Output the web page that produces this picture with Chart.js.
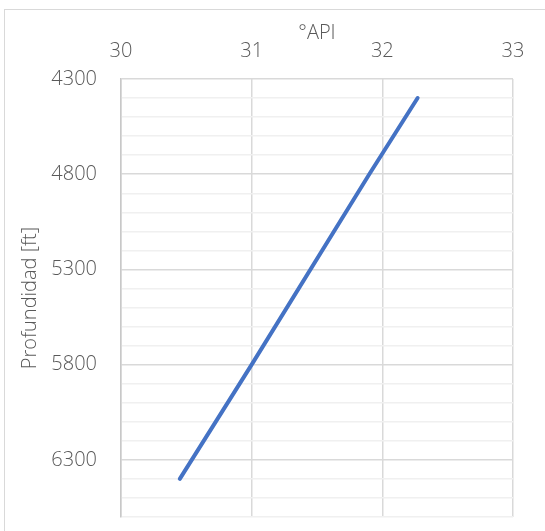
<!DOCTYPE html>
<html>
<head>
    <meta charset="UTF-8">
    <title>°API vs Profundidad</title>
    <script src="https://cdn.jsdelivr.net/npm/chart.js"></script>
    <style>
        body { margin: 0; background: #fff; overflow: hidden; }
        #wrap { position: relative; width: 545px; height: 531px; overflow: hidden; }
        #frame { position: absolute; left: 4px; top: 9px; width: 560px; height: 560px; border: 1px solid #d9d9d9; }
        canvas { position: absolute; left: 0; top: 0; }
    </style>
</head>
<body>
<div id="wrap">
    <div id="frame"></div>
    <canvas id="apiChart" width="545" height="531"></canvas>
</div>

<script>
    // Werte
    const depthFt = [4400, 4800, 5800, 6400];
    const apiValues = [32.27, 31.90, 31.00, 30.45];

    const xTicks = [30, 31, 32, 33];
    const yMin = 4300, yMax = 6600, yLabelStep = 500, yMinorStep = 100;

    const points = depthFt.map((d, i) => ({ x: apiValues[i], y: d }));
    const font = { family: "'Open Sans', sans-serif", size: 20, weight: 300 };

    const isMajorY = v => (v - yMin) % yLabelStep === 0;

    new Chart(document.getElementById("apiChart").getContext("2d"), {
        type: 'scatter',
        data: {
            datasets: [{
                data: points,
                showLine: true,
                borderColor: '#4472c4',
                borderWidth: 4,
                pointRadius: 0,
                borderCapStyle: 'round',
                fill: false
            }]
        },
        options: {
            responsive: false,
            animation: false,
            layout: { padding: { left: 0, top: 0, right: 32, bottom: 14 } },
            plugins: { legend: { display: false }, tooltip: { enabled: false } },
            scales: {
                x: {
                    position: 'top',
                    min: xTicks[0],
                    max: xTicks[xTicks.length - 1],
                    afterBuildTicks: s => { s.ticks = xTicks.map(v => ({ value: v })); },
                    grid: { color: '#d9d9d9', lineWidth: 1.5, drawTicks: false },
                    border: { display: false },
                    ticks: { color: '#595959', font: font, padding: 16, maxRotation: 0 },
                    title: {
                        display: true,
                        text: '°API',
                        color: '#595959',
                        font: font,
                        padding: { top: 21, bottom: 0 }
                    },
                    afterFit: s => { s.height = 79; s.paddingLeft = 0; s.paddingRight = 0; }
                },
                y: {
                    reverse: true,
                    min: yMin,
                    max: yMax,
                    ticks: {
                        stepSize: yMinorStep,
                        autoSkip: false,
                        color: '#595959',
                        font: font,
                        padding: 24,
                        callback: v => isMajorY(v) ? String(v) : ''
                    },
                    grid: {
                        drawTicks: false,
                        color: c => isMajorY(c.tick.value) ? '#d9d9d9' : '#f0f0f0',
                        lineWidth: 1.5
                    },
                    border: { display: true, color: '#c8c8c8', width: 1.5 },
                    title: {
                        display: true,
                        text: 'Profundidad [ft]',
                        color: '#595959',
                        font: font,
                        padding: { top: 18, bottom: 0 }
                    },
                    afterFit: s => { s.width = 121; s.paddingTop = 0; s.paddingBottom = 0; }
                }
            }
        }
    });
</script>
</body>
</html>
